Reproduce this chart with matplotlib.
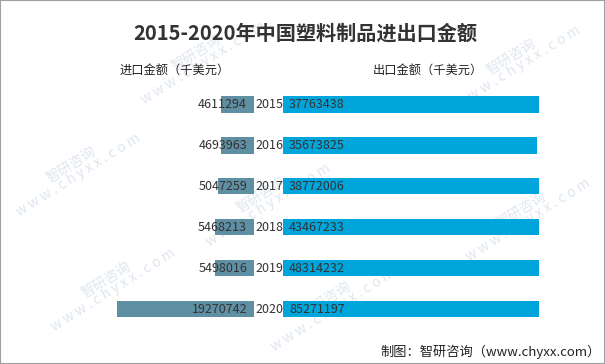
import matplotlib.pyplot as plt
from matplotlib.patches import Rectangle

plt.rcParams['font.family'] = ['Noto Sans CJK SC', 'DejaVu Sans']

years = ['2015', '2016', '2017', '2018', '2019', '2020']
imports = [4611294, 4693963, 5047259, 5468213, 5498016, 19270742]
exports = [37763438, 35673825, 38772006, 43467233, 48314232, 85271197]

W, H = 605, 364
fig = plt.figure(figsize=(W / 100, H / 100), dpi=100)

# 两个对称的坐标轴（像素换算）
px_per_unit = 7.12e-6
bottom = (H - 329.5) / H
height = 245.5 / H
ax_l = fig.add_axes([20 / W, bottom, 234 / W, height])
ax_r = fig.add_axes([283 / W, bottom, 256 / W, height])

ax_l.barh(range(len(years)), imports, height=0.4, color='#5F8FA3', zorder=2)
ax_r.barh(range(len(years)), exports, height=0.4, color='#00A5DB', zorder=2)

ax_l.set_xlim(234 / px_per_unit, 0)
ax_r.set_xlim(0, 256 / px_per_unit)
for ax in (ax_l, ax_r):
    ax.set_ylim(5.5, -0.5)
    ax.axis('off')
    ax.patch.set_alpha(0)

for i, (yr, a, b) in enumerate(zip(years, imports, exports)):
    ax_l.annotate(str(a), xy=(0, i), xytext=(-5, 0), textcoords='offset points',
                  ha='right', va='center', fontsize=9, color='#333333', zorder=3)
    ax_r.annotate(yr, xy=(0, i), xytext=(-10, 0), textcoords='offset points',
                  ha='center', va='center', fontsize=9, color='#333333', zorder=3)
    ax_r.annotate(str(b), xy=(0, i), xytext=(4.3, 0), textcoords='offset points',
                  ha='left', va='center', fontsize=9, color='#333333', zorder=3)

fig.text(305 / W, 1 - 33 / H, '2015-2020年中国塑料制品进出口金额', ha='center', va='center',
         fontsize=14.5, fontweight='bold', color='#333333')
fig.text(175 / W, 1 - 70 / H, '进口金额（千美元）', ha='center', va='center',
         fontsize=8.8, color='#222222')
fig.text(428 / W, 1 - 70 / H, '出口金额（千美元）', ha='center', va='center',
         fontsize=8.8, color='#222222')
fig.text(601 / W, 1 - 352 / H, '制图：智研咨询（www.chyxx.com）', ha='right', va='center',
         fontsize=9.5, color='#222222')

# 水印
for x, y in [(200, 58), (515, 62), (75, 170), (265, 200), (110, 285), (330, 305), (525, 215)]:
    fig.text(x / W, 1 - y / H, '智研咨询\nw w w . c h y x x . c o m', ha='center', va='center',
             rotation=32, fontsize=10, color='#DFE6EE', linespacing=0.9,
             zorder=-1, multialignment='center')

fig.patches.append(Rectangle((0, 0), 1, 1, transform=fig.transFigure, fill=False,
                             edgecolor='#A0A0A0', linewidth=1.5))

fig.savefig('out.png', dpi=100)
